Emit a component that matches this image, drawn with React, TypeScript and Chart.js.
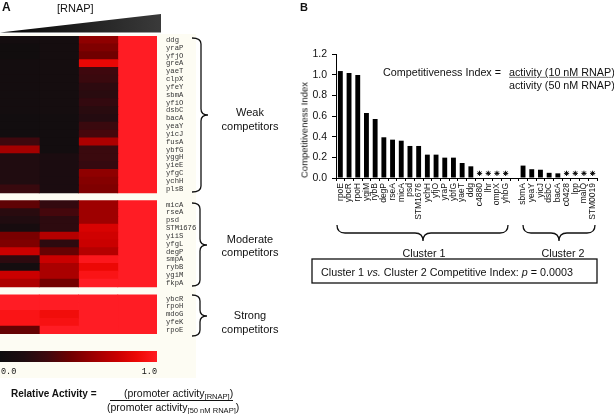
import React, { useEffect, useRef } from 'react';
import { Chart, registerables } from 'chart.js';

Chart.register(...registerables);

// ---------- Panel A: heatmap data (relative activity, 4 increasing [RNAP]) ----------
const heatGenes = [
  'ddg', 'yraP', 'yfjO', 'greA', 'yaeT', 'clpX', 'yfeY', 'sbmA', 'yfiO', 'dsbC',
  'bacA', 'yeaY', 'yicJ', 'fusA', 'ybfG', 'yggH', 'yieE', 'yfgC', 'ychH', 'plsB',
  '',
  'micA', 'rseA', 'psd', 'STM1676', 'yiiS', 'yfgL', 'degP', 'smpA', 'rybB', 'ygiM', 'fkpA',
  '',
  'ybcR', 'rpoH', 'mdoG', 'yfeK', 'rpoE',
];
const rnapLevel1 = [
  0.06, 0.03, 0.03, 0.06, 0.06, 0.06, 0.06, 0.06, 0.06, 0.06,
  0.04, 0.04, 0.04, 0.3, 0.62, 0.16, 0.16, 0.16, 0.16, 0.27,
  null,
  0.4, 0.2, 0.16, 0.08, 0.48, 0.5, 0.75, 0.22, 0.06, 0.75, 0.65,
  null,
  1.0, 1.0, 0.95, 0.95, 0.42,
];
const rnapLevel2 = [
  0.07, 0.07, 0.07, 0.07, 0.07, 0.07, 0.07, 0.07, 0.07, 0.07,
  0.05, 0.05, 0.05, 0.05, 0.05, 0.12, 0.12, 0.12, 0.12, 0.12,
  null,
  0.25, 0.32, 0.22, 0.22, 0.68, 0.22, 0.42, 0.75, 0.64, 0.64, 0.46,
  null,
  1.0, 1.0, 0.9, 0.93, 1.0,
];
const rnapLevel3 = [
  0.55, 0.5, 0.45, 0.86, 0.3, 0.28, 0.22, 0.2, 0.25, 0.2,
  0.18, 0.28, 0.32, 0.65, 0.28, 0.28, 0.26, 0.55, 0.52, 0.5,
  null,
  0.6, 0.6, 0.6, 0.8, 0.77, 0.75, 0.68, 0.97, 0.87, 0.95, 1.0,
  null,
  1.0, 1.0, 1.0, 1.0, 1.0,
];
const rnapLevel4 = [
  1, 1, 1, 1, 1, 1, 1, 1, 1, 1, 1, 1, 1, 1, 1, 1, 1, 1, 1, 1,
  null,
  1, 1, 1, 1, 1, 1, 1, 1, 1, 1, 1,
  null,
  1, 1, 1, 1, 1,
];

// ---------- Panel B: competitiveness index ----------
const barGenes = [
  'rpoE', 'ybcR', 'rpoH', 'ygiM', 'rybB', 'degP', 'rseA', 'micA', 'psd', 'STM1676',
  'ychH', 'yfjO', 'yraP', 'ybfG', 'yaeT', 'ddg', 'c4880', 'lhr', 'ompX', 'yhbG',
  '',
  'sbmA', 'yeaY', 'yicJ', 'dsbC', 'bacA', 'c0428', 'lpp', 'malQ', 'STM0019',
];
const competitiveness = [
  1.035, 1.016, 0.997, 0.629, 0.571, 0.394, 0.371, 0.361, 0.31, 0.31,
  0.226, 0.226, 0.197, 0.197, 0.145, 0.113, null, null, null, null,
  null,
  0.12, 0.085, 0.08, 0.05, 0.045, null, null, null, null,
];
const notDetected = ['c4880', 'lhr', 'ompX', 'yhbG', 'c0428', 'lpp', 'malQ', 'STM0019'];
const markerLevel = 0.045;
const yMax = 1.2;
const yStep = 0.2;

const SANS = '"Liberation Sans", Arial, Helvetica, sans-serif';
const MONO = '"Liberation Mono", "Courier New", monospace';
const CREAM = '#fdfcf3';

const colorStops: [number, number[]][] = [
  [0.0, [14, 13, 14]],
  [0.15, [30, 12, 16]],
  [0.3, [62, 8, 14]],
  [0.45, [112, 0, 0]],
  [0.6, [158, 0, 0]],
  [0.75, [202, 0, 0]],
  [0.87, [236, 8, 5]],
  [0.95, [250, 20, 22]],
  [1.0, [255, 28, 36]],
];

function activityColor(v: number): string {
  const t = Math.max(0, Math.min(1, v));
  for (let i = 1; i < colorStops.length; i++) {
    const [p1, c1] = colorStops[i];
    const [p0, c0] = colorStops[i - 1];
    if (t <= p1) {
      const f = (t - p0) / (p1 - p0);
      const c = c0.map((a, k) => Math.round(a + (c1[k] - a) * f));
      return `rgb(${c[0]},${c[1]},${c[2]})`;
    }
  }
  const c = colorStops[colorStops.length - 1][1];
  return `rgb(${c[0]},${c[1]},${c[2]})`;
}

function HeatmapChart() {
  const ref = useRef<HTMLCanvasElement | null>(null);
  useEffect(() => {
    if (!ref.current) return;
    const columns = [rnapLevel1, rnapLevel2, rnapLevel3, rnapLevel4];
    const chart = new Chart(ref.current, {
      type: 'bar',
      data: {
        labels: heatGenes,
        datasets: columns.map((col) => ({
          data: col.map((v) => (v == null ? null : 1)),
          backgroundColor: col.map((v) => (v == null ? 'rgba(0,0,0,0)' : activityColor(v))),
          borderWidth: 0,
          barPercentage: 1,
          categoryPercentage: 1,
          inflateAmount: 0.4,
        })),
      } as any,
      options: {
        indexAxis: 'y',
        animation: false,
        responsive: false,
        maintainAspectRatio: false,
        events: [],
        layout: { padding: 0 },
        plugins: { legend: { display: false }, tooltip: { enabled: false } },
        scales: {
          x: { stacked: true, display: false, min: 0, max: 4 },
          y: {
            stacked: true,
            position: 'right',
            grid: { display: false, drawTicks: false },
            border: { display: false },
            ticks: { autoSkip: false, font: { family: MONO, size: 7.2 }, color: '#333', padding: 9 },
            afterFit: (s: any) => {
              s.width = 43;
              s.paddingTop = 0;
              s.paddingBottom = 0;
            },
          },
        },
      } as any,
    });
    return () => chart.destroy();
  }, []);
  return (
    <canvas
      ref={ref}
      width={200}
      height={298}
      style={{ position: 'absolute', left: 0, top: 36, width: 200, height: 298 }}
    />
  );
}

function CompetitivenessChart() {
  const ref = useRef<HTMLCanvasElement | null>(null);
  useEffect(() => {
    if (!ref.current) return;
    const chart = new Chart(ref.current, {
      type: 'bar',
      data: {
        labels: barGenes,
        datasets: [
          {
            type: 'bar',
            data: competitiveness,
            backgroundColor: '#000',
            borderWidth: 0,
            barPercentage: 0.56,
            categoryPercentage: 1,
            order: 2,
          },
          {
            type: 'line',
            data: barGenes.map((g) => (notDetected.includes(g) ? markerLevel : null)),
            showLine: false,
            pointStyle: 'star',
            pointRadius: 2.6,
            pointBorderWidth: 1,
            borderColor: '#000',
            backgroundColor: '#000',
            order: 1,
          },
        ],
      } as any,
      options: {
        animation: false,
        responsive: false,
        maintainAspectRatio: false,
        events: [],
        layout: { padding: { left: 0, top: 10, right: 17, bottom: 0 } },
        plugins: { legend: { display: false }, tooltip: { enabled: false } },
        scales: {
          x: {
            grid: { drawOnChartArea: false, tickLength: 3, color: '#000', offset: true },
            border: { color: '#000', width: 1 },
            ticks: {
              autoSkip: false,
              maxRotation: 90,
              minRotation: 90,
              font: { family: SANS, size: 8.5 },
              color: '#111',
              padding: 2,
            },
            afterFit: (s: any) => {
              s.height = 42;
              s.paddingLeft = 0;
              s.paddingRight = 0;
            },
          },
          y: {
            min: 0,
            max: yMax,
            ticks: {
              stepSize: yStep,
              callback: (v: any) => Number(v).toFixed(1),
              font: { family: SANS, size: 10.5 },
              color: '#111',
              padding: 5,
            },
            grid: { drawOnChartArea: false, tickLength: 4, color: '#000' },
            border: { color: '#000', width: 1 },
            afterFit: (s: any) => {
              s.width = 56;
              s.paddingTop = 0;
              s.paddingBottom = 0;
            },
          },
        },
      } as any,
    });
    return () => chart.destroy();
  }, []);
  return (
    <canvas
      ref={ref}
      width={334}
      height={176}
      style={{ position: 'absolute', left: 280, top: 44, width: 334, height: 176 }}
    />
  );
}

type TxtProps = {
  x: number;
  y: number;
  size?: number;
  align?: 'left' | 'center' | 'right';
  bold?: boolean;
  font?: string;
  style?: React.CSSProperties;
  children: React.ReactNode;
};

function Txt({ x, y, size = 11, align = 'left', bold, font = SANS, style, children }: TxtProps) {
  const tx = align === 'center' ? '-50%' : align === 'right' ? '-100%' : '0';
  return (
    <div
      style={{
        position: 'absolute',
        left: x,
        top: y,
        transform: `translate(${tx},-50%)`,
        fontFamily: font,
        fontSize: size,
        fontWeight: bold ? 700 : 400,
        lineHeight: 1.15,
        whiteSpace: 'nowrap',
        color: '#111',
        ...style,
      }}
    >
      {children}
    </div>
  );
}

const sub: React.CSSProperties = { fontSize: '0.72em', position: 'relative', top: '0.32em' };

function brace(x0: number, xv: number, xt: number, y0: number, ym: number, y1: number) {
  return `M ${x0} ${y0} Q ${xv} ${y0} ${xv} ${y0 + 6} L ${xv} ${ym - 6} Q ${xv} ${ym} ${xt} ${ym} Q ${xv} ${ym} ${xv} ${ym + 6} L ${xv} ${y1 - 6} Q ${xv} ${y1} ${x0} ${y1}`;
}

function bracket(x0: number, xm: number, x1: number, y0: number, yh: number, y1: number) {
  return `M ${x0} ${y0} Q ${x0} ${yh} ${x0 + 8} ${yh} L ${xm - 8} ${yh} Q ${xm} ${yh} ${xm} ${y1} Q ${xm} ${yh} ${xm + 8} ${yh} L ${x1 - 8} ${yh} Q ${x1} ${yh} ${x1} ${y0}`;
}

export default function App() {
  const gradientCss = `linear-gradient(to right, ${colorStops
    .map(([p, c]) => `rgb(${c[0]},${c[1]},${c[2]}) ${p * 100}%`)
    .join(', ')})`;
  return (
    <div
      style={{
        position: 'absolute',
        left: 0,
        top: 0,
        width: 614,
        height: 414,
        background: '#fff',
        overflow: 'hidden',
      }}
    >
      {/* Panel A background */}
      <div style={{ position: 'absolute', left: 0, top: 34, width: 196, height: 344, background: CREAM }} />
      <HeatmapChart />
      <div style={{ position: 'absolute', left: 0, top: 351, width: 157, height: 11, background: gradientCss }} />

      <svg
        width={614}
        height={414}
        style={{ position: 'absolute', left: 0, top: 0, pointerEvents: 'none' }}
      >
        <defs>
          <linearGradient id="wedge" x1="0" x2="1" y1="0" y2="0">
            <stop offset="0%" stopColor="#050505" />
            <stop offset="100%" stopColor="#3a3a3a" />
          </linearGradient>
        </defs>
        <polygon points="0,32.5 161,14 161,32.5" fill="url(#wedge)" />
        <g fill="none" stroke="#111" strokeWidth={1.3}>
          <path d={brace(192, 201, 208, 38, 115, 192)} />
          <path d={brace(192, 200, 207, 203, 245, 286)} />
          <path d={brace(192, 200, 207, 295, 316, 336)} />
          <path d={bracket(337, 423, 508, 225, 233, 241)} />
          <path d={bracket(523, 559, 595, 225, 233, 241)} />
        </g>
        <rect x={312} y={259} width={285} height={24} fill="none" stroke="#111" strokeWidth={1.3} />
        <line x1={110} y1={400.5} x2={233} y2={400.5} stroke="#111" strokeWidth={1} />
      </svg>

      <CompetitivenessChart />

      {/* Panel A texts */}
      <Txt x={2} y={8} size={12} bold>A</Txt>
      <Txt x={57} y={8} size={11}>[RNAP]</Txt>
      <Txt x={1} y={373} size={8.5} font={MONO}>0.0</Txt>
      <Txt x={157} y={373} size={8.5} font={MONO} align="right">1.0</Txt>
      <Txt x={250} y={112} size={11} align="center">Weak</Txt>
      <Txt x={250} y={126} size={11} align="center">competitors</Txt>
      <Txt x={250} y={239} size={11} align="center">Moderate</Txt>
      <Txt x={250} y={252} size={11} align="center">competitors</Txt>
      <Txt x={250} y={315} size={11} align="center">Strong</Txt>
      <Txt x={250} y={329} size={11} align="center">competitors</Txt>
      <Txt x={11} y={394} size={10} bold>Relative Activity =</Txt>
      <Txt x={124} y={393} size={10.5}>
        (promoter activity<span style={sub}>[RNAP]</span>)
      </Txt>
      <Txt x={107} y={407} size={10.5}>
        (promoter activity<span style={sub}>[50 nM RNAP]</span>)
      </Txt>

      {/* Panel B texts */}
      <Txt x={300} y={7} size={11} bold>B</Txt>
      <div
        style={{
          position: 'absolute',
          left: 304,
          top: 130,
          transform: 'translate(-50%,-50%) rotate(-90deg)',
          fontFamily: SANS,
          fontSize: 9.5,
          whiteSpace: 'nowrap',
          color: '#111',
        }}
      >
        Competitiveness Index
      </div>
      <Txt x={383} y={72} size={10.75}>Competitiveness Index =</Txt>
      <Txt x={509} y={72} size={10.75} style={{ textDecoration: 'underline', textDecorationColor: '#777' }}>
        activity (10 nM RNAP)
      </Txt>
      <Txt x={509} y={85} size={10.75}>activity (50 nM RNAP)</Txt>
      <Txt x={424} y={253} size={10.75} align="center">Cluster 1</Txt>
      <Txt x={563} y={253} size={10.75} align="center">Cluster 2</Txt>
      <Txt x={321} y={271.5} size={10.75}>
        Cluster 1 <i>vs.</i> Cluster 2 Competitive Index: <i>p</i> = 0.0003
      </Txt>
    </div>
  );
}
